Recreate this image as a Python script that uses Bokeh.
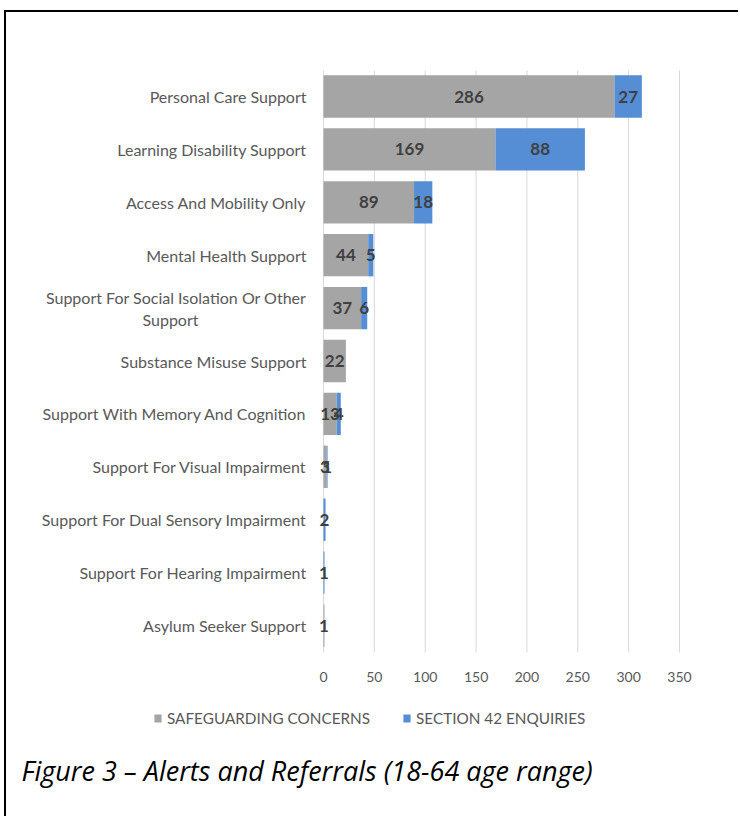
import numpy as np
from bokeh.plotting import figure
from bokeh.models import ColumnDataSource, Legend, LegendItem, Label, Range1d
from bokeh.core.properties import value
from bokeh.embed import file_html
from bokeh.resources import INLINE

categories = [
    "Personal Care Support",
    "Learning Disability Support",
    "Access And Mobility Only",
    "Mental Health Support",
    "Support For Social Isolation Or Other Support",
    "Substance Misuse Support",
    "Support With Memory And Cognition",
    "Support For Visual Impairment",
    "Support For Dual Sensory Impairment",
    "Support For Hearing Impairment",
    "Asylum Seeker Support",
]
safeguarding = [286, 169, 89, 44, 37, 22, 13, 3, 0, 0, 1]
section42 = [27, 88, 18, 5, 6, 0, 4, 1, 2, 1, 0]
x_ticks = [0, 50, 100, 150, 200, 250, 300, 350]
wrapped = {"Support For Social Isolation Or Other Support":
           ["Support For Social Isolation Or Other", "Support"]}
series_names = ["SAFEGUARDING CONCERNS", "SECTION 42 ENQUIRIES"]
caption = "Figure 3 \u2013 Alerts and Referrals (18-64 age range)"

GRAY = "#A5A5A5"
BLUE = "#558ED5"
TXT = "#595959"
FONT = "Lato"

# ---- layout geometry (screen pixels of the page) ----
W, H = 740, 818
OX, OY = 6, 12               # canvas offset caused by the frame border
X0_PX, X350_PX = 323, 679    # pixel positions of value 0 and 350
ROW0_PX, ROW_PX = 96, 52.9   # first row centre and row pitch
PLOT_TOP_PX, PLOT_BOT_PX = 70, 652

ppu = (X350_PX - X0_PX) / 350.0
def vx(px):  # page x pixel -> data x
    return (px - X0_PX) / ppu

n = len(categories)
rows = np.arange(n)[::-1].astype(float)   # top category gets highest value
def vy(py):  # page y pixel -> data y
    return (n - 1) - (py - ROW0_PX) / ROW_PX

p = figure(
    width=W - OX, height=H - OY,
    x_range=Range1d(vx(OX), vx(W)), y_range=Range1d(vy(H), vy(OY)),
    x_axis_location=None, y_axis_location=None,
    output_backend="svg", toolbar_location=None,
    min_border=0,
)
p.styles = {"margin-top": "10px", "margin-left": "4px",
            "border-top": "2px solid black", "border-left": "2px solid black"}
p.outline_line_color = None
p.grid.visible = False
p.background_fill_color = "white"

# gridlines at x ticks
p.segment(x0=x_ticks, x1=x_ticks, y0=[vy(PLOT_BOT_PX)] * len(x_ticks),
          y1=[vy(PLOT_TOP_PX)] * len(x_ticks), line_color="#D9D9D9", line_width=1)

sg = np.array(safeguarding, dtype=float)
s42 = np.array(section42, dtype=float)
src = ColumnDataSource(dict(y=rows, sg_left=np.zeros(n), sg_right=sg,
                            s42_left=sg, s42_right=sg + s42))
bh = 0.8
r1 = p.hbar(y="y", left="sg_left", right="sg_right", height=bh, source=src,
            fill_color=GRAY, line_color=None)
r2 = p.hbar(y="y", left="s42_left", right="s42_right", height=bh, source=src,
            fill_color=BLUE, line_color=None)

# data labels
lab_x, lab_y, lab_t = [], [], []
for yy, a, b in zip(rows, safeguarding, section42):
    if a:
        lab_x.append(a / 2); lab_y.append(yy); lab_t.append(str(a))
    if b:
        lab_x.append(a + b / 2); lab_y.append(yy); lab_t.append(str(b))
p.text(x=lab_x, y=lab_y, text=lab_t, text_font=value(FONT), text_font_style="bold",
       text_font_size="17px", text_color="#404040", text_align="center", text_baseline="middle")

# category labels
single_y, single_t = [], []
l1_y, l1_t, l2_y, l2_t = [], [], [], []
line_off = 11 / ROW_PX
for yy, c in zip(rows, categories):
    if c in wrapped:
        a, b = wrapped[c]
        l1_y.append(yy + line_off); l1_t.append(a)
        l2_y.append(yy - line_off); l2_t.append(b)
    else:
        single_y.append(yy); single_t.append(c)
lab_right = vx(306)
p.text(x=[lab_right] * len(single_t), y=single_y, text=single_t, text_font=value(FONT),
       text_font_size="16px", text_color=TXT, text_align="right", text_baseline="middle")
p.text(x=[lab_right] * len(l1_t), y=l1_y, text=l1_t, text_font=value(FONT),
       text_font_size="16px", text_color=TXT, text_align="right", text_baseline="middle")
p.text(x=[vx(170)] * len(l2_t), y=l2_y, text=l2_t, text_font=value(FONT),
       text_font_size="16px", text_color=TXT, text_align="center", text_baseline="middle")

# x tick labels
p.text(x=x_ticks, y=[vy(676)] * len(x_ticks), text=[str(t) for t in x_ticks],
       text_font=value(FONT), text_font_size="14px", text_color=TXT,
       text_align="center", text_baseline="middle")

legend = Legend(
    items=[LegendItem(label=series_names[0], renderers=[r1]),
           LegendItem(label=series_names[1], renderers=[r2])],
    orientation="horizontal", location=(153 - OX, (H - OY) - (719 - OY) - 8),
    glyph_width=9, glyph_height=10, label_standoff=5, spacing=32,
    padding=0, margin=0, border_line_color=None, background_fill_alpha=0,
    label_text_font=FONT, label_text_font_size="15.3px", label_text_color=TXT,
    label_height=16,
)
p.add_layout(legend, "center")

cap = Label(x=21 - OX, y=(H - OY) - (770 - OY), x_units="screen", y_units="screen",
            text=caption, text_font="Open Sans", text_font_style="italic",
            text_font_size="27px", text_color="black", text_baseline="alphabetic")
p.add_layout(cap)

open("out.html", "w").write(file_html(p, INLINE))
